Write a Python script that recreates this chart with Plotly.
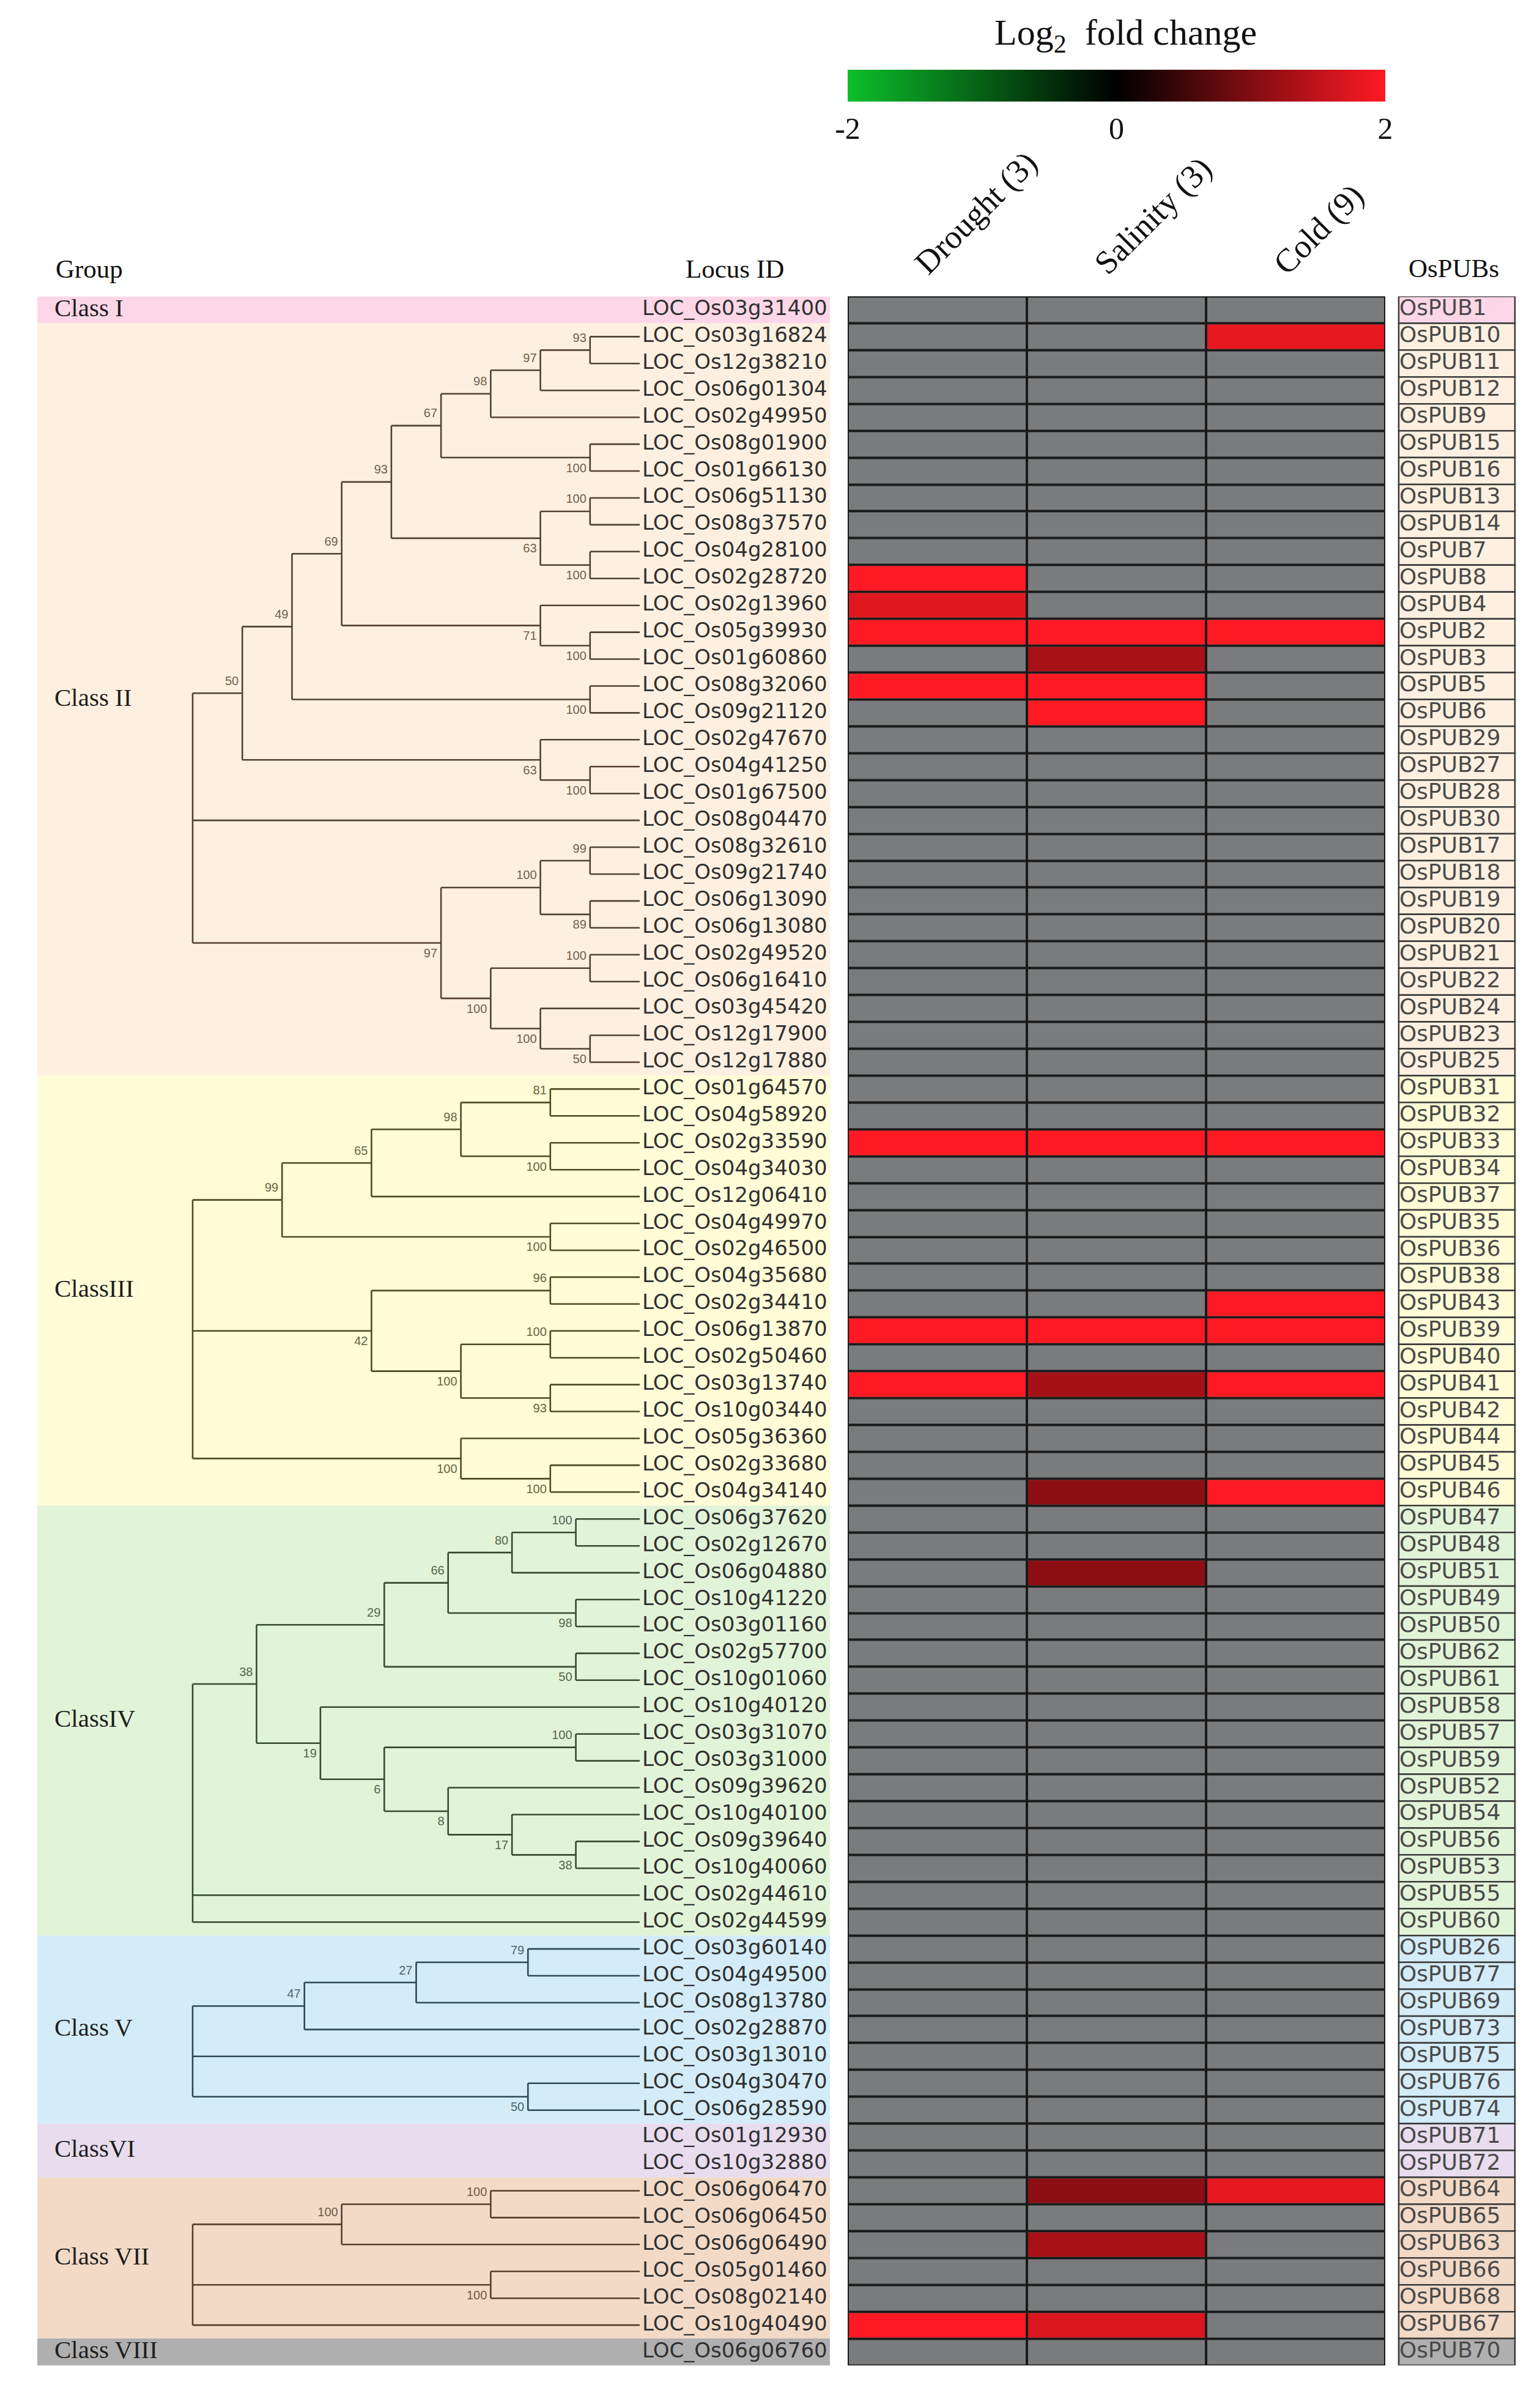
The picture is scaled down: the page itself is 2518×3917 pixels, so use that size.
import plotly.graph_objects as go

W, H = 2518, 3917

# ---------------- data ----------------
CLASS_LABELS = ["Class I", "Class II", "ClassIII", "ClassIV", "Class V", "ClassVI", "Class VII", "Class VIII"]
CLASS_FILL = ["#FDD7E7", "#FEF0E0", "#FFFCD7", "#E2F4D8", "#D3ECF7", "#E8DCEE", "#F2DAC7", "#AFAFAF"]
CLASS_LINE = [None, "#54402F", "#4E4B22", "#344A30", "#2E4856", None, "#563E2D", None]
CLASS_BOOT = [None, "#70604F", "#67643F", "#56654F", "#506470", None, "#6E5A4A", None]

LOCUS = [
    ["LOC_Os03g31400"],
    ["LOC_Os03g16824", "LOC_Os12g38210", "LOC_Os06g01304", "LOC_Os02g49950", "LOC_Os08g01900",
     "LOC_Os01g66130", "LOC_Os06g51130", "LOC_Os08g37570", "LOC_Os04g28100", "LOC_Os02g28720",
     "LOC_Os02g13960", "LOC_Os05g39930", "LOC_Os01g60860", "LOC_Os08g32060", "LOC_Os09g21120",
     "LOC_Os02g47670", "LOC_Os04g41250", "LOC_Os01g67500", "LOC_Os08g04470", "LOC_Os08g32610",
     "LOC_Os09g21740", "LOC_Os06g13090", "LOC_Os06g13080", "LOC_Os02g49520", "LOC_Os06g16410",
     "LOC_Os03g45420", "LOC_Os12g17900", "LOC_Os12g17880"],
    ["LOC_Os01g64570", "LOC_Os04g58920", "LOC_Os02g33590", "LOC_Os04g34030", "LOC_Os12g06410",
     "LOC_Os04g49970", "LOC_Os02g46500", "LOC_Os04g35680", "LOC_Os02g34410", "LOC_Os06g13870",
     "LOC_Os02g50460", "LOC_Os03g13740", "LOC_Os10g03440", "LOC_Os05g36360", "LOC_Os02g33680",
     "LOC_Os04g34140"],
    ["LOC_Os06g37620", "LOC_Os02g12670", "LOC_Os06g04880", "LOC_Os10g41220", "LOC_Os03g01160",
     "LOC_Os02g57700", "LOC_Os10g01060", "LOC_Os10g40120", "LOC_Os03g31070", "LOC_Os03g31000",
     "LOC_Os09g39620", "LOC_Os10g40100", "LOC_Os09g39640", "LOC_Os10g40060", "LOC_Os02g44610",
     "LOC_Os02g44599"],
    ["LOC_Os03g60140", "LOC_Os04g49500", "LOC_Os08g13780", "LOC_Os02g28870", "LOC_Os03g13010",
     "LOC_Os04g30470", "LOC_Os06g28590"],
    ["LOC_Os01g12930", "LOC_Os10g32880"],
    ["LOC_Os06g06470", "LOC_Os06g06450", "LOC_Os06g06490", "LOC_Os05g01460", "LOC_Os08g02140",
     "LOC_Os10g40490"],
    ["LOC_Os06g06760"],
]

OSPUB = [
    ["OsPUB1"],
    ["OsPUB10", "OsPUB11", "OsPUB12", "OsPUB9", "OsPUB15", "OsPUB16", "OsPUB13", "OsPUB14", "OsPUB7",
     "OsPUB8", "OsPUB4", "OsPUB2", "OsPUB3", "OsPUB5", "OsPUB6", "OsPUB29", "OsPUB27", "OsPUB28",
     "OsPUB30", "OsPUB17", "OsPUB18", "OsPUB19", "OsPUB20", "OsPUB21", "OsPUB22", "OsPUB24",
     "OsPUB23", "OsPUB25"],
    ["OsPUB31", "OsPUB32", "OsPUB33", "OsPUB34", "OsPUB37", "OsPUB35", "OsPUB36", "OsPUB38",
     "OsPUB43", "OsPUB39", "OsPUB40", "OsPUB41", "OsPUB42", "OsPUB44", "OsPUB45", "OsPUB46"],
    ["OsPUB47", "OsPUB48", "OsPUB51", "OsPUB49", "OsPUB50", "OsPUB62", "OsPUB61", "OsPUB58",
     "OsPUB57", "OsPUB59", "OsPUB52", "OsPUB54", "OsPUB56", "OsPUB53", "OsPUB55", "OsPUB60"],
    ["OsPUB26", "OsPUB77", "OsPUB69", "OsPUB73", "OsPUB75", "OsPUB76", "OsPUB74"],
    ["OsPUB71", "OsPUB72"],
    ["OsPUB64", "OsPUB65", "OsPUB63", "OsPUB66", "OsPUB68", "OsPUB67"],
    ["OsPUB70"],
]

# Newick topologies (bootstrap values as internal node labels); None = no tree drawn
TREES = [
    None,
    "(((((((((LOC_Os03g16824,LOC_Os12g38210)93,LOC_Os06g01304)97,LOC_Os02g49950)98,"
    "(LOC_Os08g01900,LOC_Os01g66130)100)67,((LOC_Os06g51130,LOC_Os08g37570)100,"
    "(LOC_Os04g28100,LOC_Os02g28720)100)63)93,(LOC_Os02g13960,(LOC_Os05g39930,LOC_Os01g60860)100)71)69,"
    "(LOC_Os08g32060,LOC_Os09g21120)100)49,(LOC_Os02g47670,(LOC_Os04g41250,LOC_Os01g67500)100)63)50,"
    "LOC_Os08g04470,(((LOC_Os08g32610,LOC_Os09g21740)99,(LOC_Os06g13090,LOC_Os06g13080)89)100,"
    "((LOC_Os02g49520,LOC_Os06g16410)100,(LOC_Os03g45420,(LOC_Os12g17900,LOC_Os12g17880)50)100)100)97)",
    "(((((LOC_Os01g64570,LOC_Os04g58920)81,(LOC_Os02g33590,LOC_Os04g34030)100)98,LOC_Os12g06410)65,"
    "(LOC_Os04g49970,LOC_Os02g46500)100)99,((LOC_Os04g35680,LOC_Os02g34410)96,"
    "((LOC_Os06g13870,LOC_Os02g50460)100,(LOC_Os03g13740,LOC_Os10g03440)93)100)42,"
    "(LOC_Os05g36360,(LOC_Os02g33680,LOC_Os04g34140)100)100)",
    "((((((LOC_Os06g37620,LOC_Os02g12670)100,LOC_Os06g04880)80,(LOC_Os10g41220,LOC_Os03g01160)98)66,"
    "(LOC_Os02g57700,LOC_Os10g01060)50)29,(LOC_Os10g40120,((LOC_Os03g31070,LOC_Os03g31000)100,"
    "(LOC_Os09g39620,(LOC_Os10g40100,(LOC_Os09g39640,LOC_Os10g40060)38)17)8)6)19)38,"
    "LOC_Os02g44610,LOC_Os02g44599)",
    "((((LOC_Os03g60140,LOC_Os04g49500)79,LOC_Os08g13780)27,LOC_Os02g28870)47,LOC_Os03g13010,"
    "(LOC_Os04g30470,LOC_Os06g28590)50)",
    None,
    "(((LOC_Os06g06470,LOC_Os06g06450)100,LOC_Os06g06490)100,(LOC_Os05g01460,LOC_Os08g02140)100,"
    "LOC_Os10g40490)",
    None,
]

CONDITIONS = ["Drought (3)", "Salinity (3)", "Cold (9)"]
N = None
# log2 fold change per gene (row order as above); None = not significant (grey)
DROUGHT = ([N] +
           [N, N, N, N, N, N, N, N, N, 2.0, 1.75, 2.0, N, 2.0, N, N, N, N, N, N, N, N, N, N, N, N, N, N] +
           [N, N, 2.0, N, N, N, N, N, N, 2.0, N, 2.0, N, N, N, N] +
           [N] * 16 + [N] * 7 + [N] * 2 +
           [N, N, N, N, N, 2.0] + [N])
SALINITY = ([N] +
            [N, N, N, N, N, N, N, N, N, N, N, 2.0, 1.32, 2.0, 2.0, N, N, N, N, N, N, N, N, N, N, N, N, N] +
            [N, N, 2.0, N, N, N, N, N, N, 2.0, N, 1.3, N, N, N, 1.1] +
            [N, N, 1.1] + [N] * 13 + [N] * 7 + [N] * 2 +
            [1.1, N, 1.32, N, N, 1.72] + [N])
COLD = ([N] +
        [1.82, N, N, N, N, N, N, N, N, N, N, 2.0, N, N, N, N, N, N, N, N, N, N, N, N, N, N, N, N] +
        [N, N, 2.0, N, N, N, N, N, 2.0, 2.0, N, 2.0, N, N, N, 2.0] +
        [N] * 16 + [N] * 7 + [N] * 2 +
        [1.82, N, N, N, N, N] + [N])

CB_TICKS = [-2, 0, 2]

# ---------------- layout constants (pixels) ----------------
TOP, BOTTOM = 484.5, 3867
BAND_X0, BAND_X1 = 61, 1357
ROOT_X, LEAF_X = 315, 1046
LOC_X = 1050
HM_X0, HM_X1 = 1386, 2265
BOX_X0, BOX_X1 = 2287, 2477
SERIF = "Liberation Serif, Times New Roman, serif"
SANS = "DejaVu Sans, Arial, sans-serif"
NARROW = "Liberation Sans Narrow, Liberation Sans, Arial, sans-serif"

all_locus = [l for grp in LOCUS for l in grp]
all_pub = [p for grp in OSPUB for p in grp]
nrows = len(all_locus)
row_of = {name: i for i, name in enumerate(all_locus)}


def parse_newick(s):
    pos = 0

    def parse():
        nonlocal pos
        if s[pos] == "(":
            pos += 1
            kids = [parse()]
            while s[pos] == ",":
                pos += 1
                kids.append(parse())
            pos += 1  # ')'
            start = pos
            while pos < len(s) and s[pos] not in ",)":
                pos += 1
            return {"kids": kids, "support": s[start:pos]}
        start = pos
        while s[pos] not in ",)":
            pos += 1
        return s[start:pos]

    return parse()


def ny(n):
    return row_of[n] if isinstance(n, str) else n["y"]


def nh(n):
    return 0 if isinstance(n, str) else n["h"]


def annotate(n):
    if isinstance(n, str):
        return
    for k in n["kids"]:
        annotate(k)
    n["y"] = (ny(n["kids"][0]) + ny(n["kids"][-1])) / 2
    n["h"] = max(nh(k) for k in n["kids"]) + 1


def xpos(h, Ht):
    return ROOT_X + (LEAF_X - ROOT_X) * (Ht - h) / Ht


def collect(n, Ht, sx, sy, labs, is_root=True, first=True):
    x = xpos(n["h"], Ht)
    sx += [x, x, None]
    sy += [ny(n["kids"][0]), ny(n["kids"][-1]), None]
    for i, k in enumerate(n["kids"]):
        sx += [x, xpos(nh(k), Ht), None]
        sy += [ny(k), ny(k), None]
        if not isinstance(k, str):
            collect(k, Ht, sx, sy, labs, False, i == 0)
    if not is_root and n["support"]:
        labs.append((x - 6, n["y"] + (-0.42 if first else 0.42), n["support"]))


fig = go.Figure()
shapes = []

# class bands and labels
start = 0
cls_y = []
for ci, grp in enumerate(LOCUS):
    end = start + len(grp) - 1
    shapes.append(dict(type="rect", xref="x", yref="y", x0=BAND_X0, x1=BAND_X1, y0=start - 0.5, y1=end + 0.5,
                       fillcolor=CLASS_FILL[ci], line=dict(width=0), layer="below"))
    for r in range(start, end + 1):
        shapes.append(dict(type="rect", xref="x", yref="y", x0=BOX_X0, x1=BOX_X1, y0=r - 0.5, y1=r + 0.5,
                           fillcolor=CLASS_FILL[ci], line=dict(width=2.5, color="#3A3A3A"), layer="below"))
    cls_y.append((start + end) / 2)
    start = end + 1

fig.add_trace(go.Scatter(x=[89] * len(CLASS_LABELS), y=cls_y, text=CLASS_LABELS, mode="text",
                         textposition="middle right", hoverinfo="skip",
                         textfont=dict(family=SERIF, size=41, color="#1E1E1E"), xaxis="x", yaxis="y"))

# trees
for ci, nw in enumerate(TREES):
    if nw is None:
        continue
    tree = parse_newick(nw)
    annotate(tree)
    sx, sy, labs = [], [], []
    collect(tree, tree["h"], sx, sy, labs)
    fig.add_trace(go.Scatter(x=sx, y=sy, mode="lines", line=dict(color=CLASS_LINE[ci], width=2.6),
                             hoverinfo="skip", xaxis="x", yaxis="y"))
    fig.add_trace(go.Scatter(x=[l[0] for l in labs], y=[l[1] for l in labs], text=[l[2] for l in labs],
                             mode="text", textposition="middle left", hoverinfo="skip",
                             textfont=dict(family=NARROW, size=20, color=CLASS_BOOT[ci]),
                             xaxis="x", yaxis="y"))

# locus labels
fig.add_trace(go.Scatter(x=[LOC_X] * nrows, y=list(range(nrows)), text=all_locus, mode="text",
                         textposition="middle right", hoverinfo="skip",
                         textfont=dict(family=SANS, size=34, color="#303030"), xaxis="x", yaxis="y"))
# OsPUB labels
fig.add_trace(go.Scatter(x=[BOX_X0 + 1] * nrows, y=list(range(nrows)), text=all_pub, mode="text",
                         textposition="middle right", hoverinfo="skip",
                         textfont=dict(family=SANS, size=36, color="#4A4A4A"), xaxis="x", yaxis="y"))

# heatmap
z = [[DROUGHT[i], SALINITY[i], COLD[i]] for i in range(nrows)]
shapes.append(dict(type="rect", xref="x2", yref="y", x0=-0.5, x1=2.5, y0=-0.5, y1=nrows - 0.5,
                   fillcolor="#1A1A1A", line=dict(width=3, color="#1A1A1A"), layer="below"))
fig.add_trace(go.Heatmap(z=[[0, 0, 0] for _ in range(nrows)], x=[0, 1, 2], y=list(range(nrows)),
                         colorscale=[[0, "#797B7C"], [1, "#797B7C"]], showscale=False, xgap=4, ygap=4,
                         hoverinfo="skip", xaxis="x2", yaxis="y"))
fig.add_trace(go.Heatmap(
    z=z, x=[0, 1, 2], y=list(range(nrows)), zmin=-2, zmax=2, xgap=4, ygap=4, hoverinfo="skip",
    colorscale=[[0, "#0CBF2B"], [0.5, "#000000"], [1, "#FF1A23"]],
    colorbar=dict(orientation="h", x=(HM_X0 + HM_X1) / 2 / W, xanchor="center",
                  y=1 - 114 / H, yanchor="top", len=HM_X1 - HM_X0, lenmode="pixels",
                  thickness=52, thicknessmode="pixels", outlinewidth=0, xpad=0, ypad=0,
                  tickvals=CB_TICKS, ticktext=[str(t) for t in CB_TICKS], ticks="",
                  tickfont=dict(family=SERIF, size=50, color="#111")),
    xaxis="x2", yaxis="y"))

annotations = [
    dict(text="Log<sub>2</sub>  fold change", x=1840 / W, y=1 - 58 / H, xref="paper", yref="paper",
         xanchor="center", yanchor="middle", showarrow=False, font=dict(family=SERIF, size=60, color="#111")),
    dict(text="Group", x=89 / W, y=1 - 439 / H, xref="paper", yref="paper", xanchor="left", yanchor="middle",
         showarrow=False, font=dict(family=SERIF, size=43, color="#111")),
    dict(text="Locus ID", x=1201 / W, y=1 - 439 / H, xref="paper", yref="paper", xanchor="center",
         yanchor="middle", showarrow=False, font=dict(family=SERIF, size=43, color="#111")),
    dict(text="OsPUBs", x=2377 / W, y=1 - 438 / H, xref="paper", yref="paper", xanchor="center",
         yanchor="middle", showarrow=False, font=dict(family=SERIF, size=43, color="#111")),
]
for j, c in enumerate(CONDITIONS):
    annotations.append(dict(text=c, x=j - 0.5 + 0.325, y=1 - 463 / H, xref="x2", yref="paper", xanchor="left",
                            yanchor="bottom", textangle=-45, showarrow=False,
                            font=dict(family=SERIF, size=54, color="#111")))

fig.update_layout(
    width=W, height=H, margin=dict(l=0, r=0, t=0, b=0),
    paper_bgcolor="white", plot_bgcolor="rgba(0,0,0,0)", showlegend=False,
    xaxis=dict(domain=[0, 1], range=[0, W], visible=False, fixedrange=True),
    xaxis2=dict(domain=[HM_X0 / W, HM_X1 / W], range=[-0.5, 2.5], anchor="y", visible=False, fixedrange=True),
    yaxis=dict(domain=[1 - BOTTOM / H, 1 - TOP / H], range=[nrows - 0.5, -0.5], visible=False, fixedrange=True),
    shapes=shapes, annotations=annotations,
)

fig.write_html("out.html", config={"displayModeBar": False},
               post_script="document.body.style.margin='0px';")
